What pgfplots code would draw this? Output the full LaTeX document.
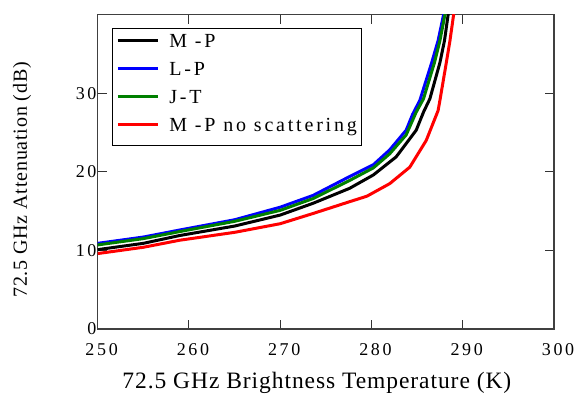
\documentclass[border=0pt]{standalone}
\usepackage{fontspec}
\setmainfont{Liberation Serif}
\newfontfamily\tickfont[LetterSpace=15]{Liberation Serif}
\newfontfamily\legfont[LetterSpace=14]{Liberation Serif}
\newfontfamily\labfont[LetterSpace=4]{Liberation Serif}
\usepackage{pgfplots}
\pgfplotsset{compat=1.18}
\definecolor{ggreen}{RGB}{0,128,0}
\begin{document}
\begin{tikzpicture}
\begin{axis}[
  name=ax,
  scale only axis,
  width=456.3pt, height=314.3pt,
  xmin=250, xmax=300, ymin=0, ymax=40,
  xtick={250,260,...,300}, ytick={0,10,20,30},
  tick align=inside,
  major tick length=9pt,
  axis line style={black!75, line width=1.6pt},
  every tick/.style={black!80, line width=1pt},
  /pgf/number format/assume math mode=true,
  tick label style={font=\tickfont\fontsize{18}{18}\selectfont},
  xticklabel style={anchor=north, inner sep=0pt, yshift=-14pt, xshift=4pt},
  yticklabel style={anchor=east, inner sep=0pt, xshift=-1pt},
  xlabel={72.5 GHz Brightness Temperature (K)},
  ylabel={72.5 GHz Attenuation (dB)},
  xlabel style={font=\labfont\fontsize{23.5}{23.5}\selectfont, at={(axis description cs:0.4803,-0.1718)}, anchor=center},
  ylabel style={font=\labfont\fontsize{20}{20}\selectfont, at={(axis description cs:-0.1659,0.4745)}, anchor=center},
  legend style={at={(0,1)}, anchor=north west, xshift=14.3pt, yshift=-13.3pt,
    draw=black, line width=0.8pt, inner xsep=4pt, inner ysep=4pt,
    font=\legfont\fontsize{20}{20}\selectfont,
    nodes={inner sep=0pt, text height=15.5pt, text depth=10pt},
    row sep=2.5pt, column sep=10pt},
  legend cell align=left,
  legend image code/.code={\draw[#1, line width=3pt] (0pt,5pt) -- (40pt,5pt);},
  every axis plot/.append style={line width=3pt},
]
\addplot[black] coordinates {(250,10.1)(255,10.9)(259,11.9)(265,13.1)(270,14.5)(273.6,16.0)(277.6,17.9)(280.2,19.6)(282.7,21.9)(284.9,25.3)(285.7,27.6)(286.4,29.3)(287.5,33.9)(288.0,36.7)(288.4,40)(288.6,42)};
\addlegendentry{M -P}
\addplot[blue] coordinates {(250,10.9)(255,11.7)(259,12.6)(265,13.9)(270,15.5)(273.6,17.0)(277.6,19.4)(280.2,20.9)(282,22.8)(283.8,25.3)(284.5,27.3)(285.3,29.1)(286.6,33.9)(287.3,36.7)(287.9,40)(288.1,42)};
\addlegendentry{L-P}
\addplot[ggreen] coordinates {(250,10.7)(255,11.5)(259,12.4)(265,13.7)(270,15.1)(273.6,16.6)(277.6,18.9)(280.2,20.5)(282,22.3)(283.8,24.7)(284.9,27.6)(285.7,29.3)(286.9,33.9)(287.5,36.7)(288.05,40)(288.25,42)};
\addlegendentry{J-T}
\addplot[red] coordinates {(250,9.6)(255,10.4)(259,11.3)(265,12.3)(270,13.4)(273.6,14.7)(277.6,16.2)(279.5,16.9)(282.0,18.5)(284.2,20.6)(286.0,24.0)(287.3,27.8)(287.5,29.1)(288.2,33.9)(288.6,36.7)(289.0,40)(289.2,42)};
\addlegendentry{M -P no scattering}
\end{axis}
\pgfresetboundingbox
\path ([xshift=-97.7pt,yshift=-70pt]ax.south west) rectangle ([xshift=34pt,yshift=14.7pt]ax.north east);
\end{tikzpicture}
\end{document}
